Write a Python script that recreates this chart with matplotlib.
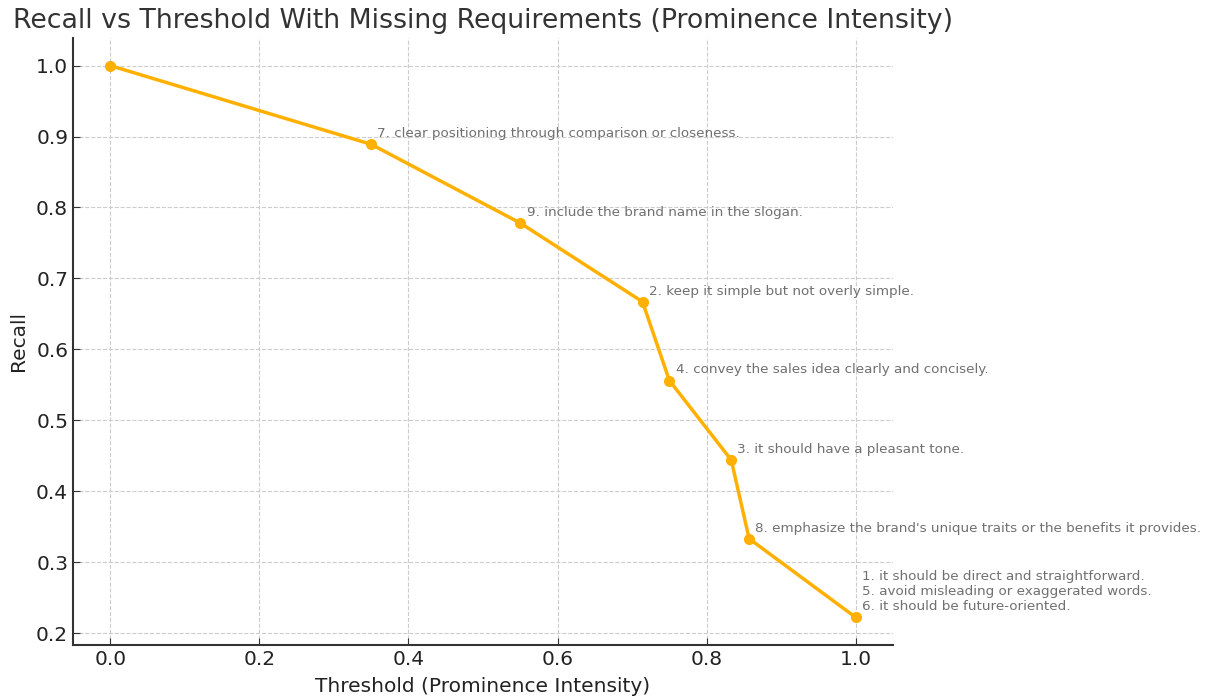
import matplotlib
matplotlib.use("Agg")
import matplotlib.pyplot as plt

thresholds = [0.0, 0.35, 0.55, 0.714, 0.75, 0.833, 0.857, 1.0]
recall = [1.0, 0.889, 0.778, 0.667, 0.556, 0.444, 0.333, 0.222]
labels = [
    "",
    "7. clear positioning through comparison or closeness.",
    "9. include the brand name in the slogan.",
    "2. keep it simple but not overly simple.",
    "4. convey the sales idea clearly and concisely.",
    "3. it should have a pleasant tone.",
    "8. emphasize the brand's unique traits or the benefits it provides.",
    "1. it should be direct and straightforward.\n5. avoid misleading or exaggerated words.\n6. it should be future-oriented.",
]

fig = plt.figure(figsize=(12.08, 7.0), dpi=100)
ax = fig.add_axes([73/1208, 1-645/700, (893-73)/1208, (645-38)/700])

ax.plot(thresholds, recall, color="#FFB000", linewidth=2.5, marker="o", markersize=7)

for x, y, t in zip(thresholds, recall, labels):
    if t:
        ax.annotate(t, (x, y), xytext=(4.5, 3), textcoords="offset points",
                    fontsize=9.7, color="#707070", ha="left", va="bottom",
                    linespacing=1.2)

ax.set_title("Recall vs Threshold With Missing Requirements (Prominence Intensity)",
             fontsize=19.3, color="#333333", pad=7)
ax.set_xlabel("Threshold (Prominence Intensity)", fontsize=14.5, color="#222222", labelpad=6)
ax.set_ylabel("Recall", fontsize=14.5, color="#222222", labelpad=6)
ax.set_xticks([0.0, 0.2, 0.4, 0.6, 0.8, 1.0])
ax.set_yticks([0.2, 0.3, 0.4, 0.5, 0.6, 0.7, 0.8, 0.9, 1.0])
ax.tick_params(labelsize=14.5, direction="in", colors="#333333", labelcolor="#222222", length=5)
ax.grid(True, linestyle="--", color="#cccccc", linewidth=0.8)
ax.spines["top"].set_visible(False)
ax.spines["right"].set_visible(False)
for s in ("left", "bottom"):
    ax.spines[s].set_color("#333333")
    ax.spines[s].set_linewidth(1.5)

fig.savefig("out.png", dpi=100)
